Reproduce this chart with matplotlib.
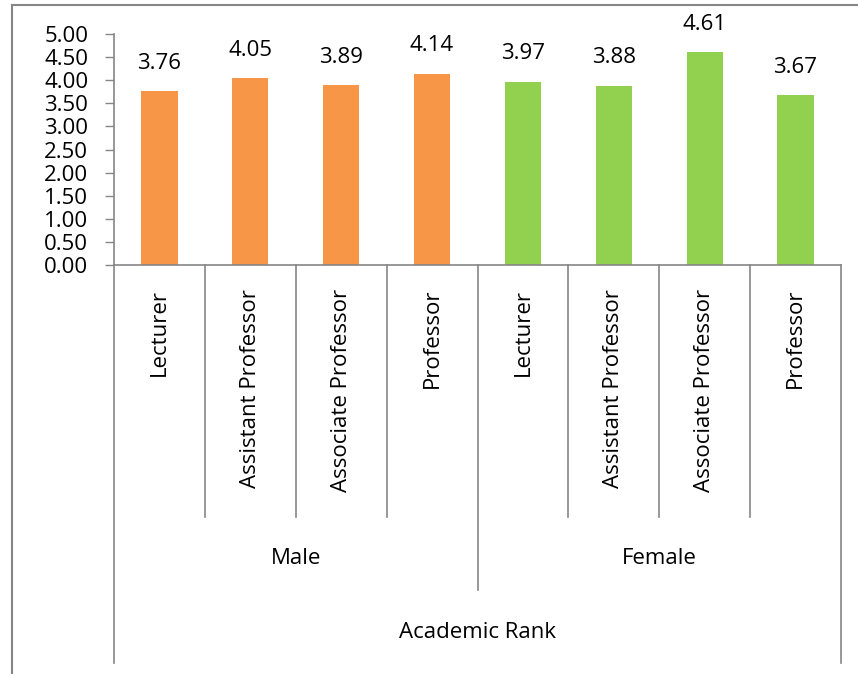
import matplotlib
matplotlib.use("Agg")
import matplotlib.pyplot as plt
import matplotlib.transforms as mtransforms
from matplotlib.lines import Line2D

# mean scores by gender and academic rank
ranks = ["Lecturer", "Assistant Professor", "Associate Professor", "Professor"]
genders = ["Male", "Female"]
male_scores = [3.76, 4.05, 3.89, 4.14]
female_scores = [3.97, 3.88, 4.61, 3.67]
axis_title = "Academic Rank"
y_ticks = [0.0, 0.5, 1.0, 1.5, 2.0, 2.5, 3.0, 3.5, 4.0, 4.5, 5.0]

ORANGE = "#F79646"
GREEN = "#92D050"
GREY = "#868686"

plt.rcParams["font.family"] = ["Open Sans", "DejaVu Sans"]
FS = 16

W, H = 858, 674
fig = plt.figure(figsize=(W / 100, H / 100), dpi=100)

# plot area in pixels (left, top, right, bottom)
px_l, px_t, px_r, px_b = 114, 34, 841, 265
ax = fig.add_axes([px_l / W, 1 - px_b / H, (px_r - px_l) / W, (px_b - px_t) / H])

values = male_scores + female_scores
colors = [ORANGE] * len(male_scores) + [GREEN] * len(female_scores)
xs = list(range(len(values)))
ax.bar(xs, values, width=0.4, color=colors, zorder=2)

for x, v in zip(xs, values):
    ax.annotate(f"{v:.2f}", (x, v), xytext=(0, 20), textcoords="offset points",
                ha="center", va="center", fontsize=FS, color="black")

ax.set_xlim(-0.5, len(values) - 0.5)
ax.set_ylim(0, 5)
ax.set_yticks(y_ticks)
ax.set_yticklabels([f"{t:.2f}" for t in y_ticks], fontsize=FS)
ax.tick_params(axis="y", direction="out", length=6.5, width=1, color=GREY, pad=12)
ax.tick_params(axis="x", bottom=False, labelbottom=False)
for side in ["top", "right"]:
    ax.spines[side].set_visible(False)
for side in ["left", "bottom"]:
    ax.spines[side].set_color(GREY)
    ax.spines[side].set_linewidth(1.2)

# x in data units, y in figure fraction
tr = mtransforms.blended_transform_factory(ax.transData, fig.transFigure)

def fy(py):
    return 1 - py / H

def vline(x, y0, y1):
    fig.add_artist(Line2D([x, x], [fy(y0), fy(y1)], transform=tr,
                          color=GREY, lw=1.2, clip_on=False))

# multi-level category axis
n = len(ranks)
for g in range(len(genders)):
    for i in range(1, n):
        vline(g * n + i - 0.5, px_b, 517)
vline(n - 0.5, px_b, 590)
vline(-0.5, px_b, 663)
vline(len(values) - 0.5, px_b, 663)

for g, gender in enumerate(genders):
    for i, rank in enumerate(ranks):
        fig.text(g * n + i, fy(289), rank, transform=tr, rotation=90,
                 ha="center", va="top", fontsize=FS)
    fig.text(g * n + (n - 1) / 2, fy(558), gender, transform=tr,
             ha="center", va="center", fontsize=FS)
fig.text((len(values) - 1) / 2, fy(632), axis_title, transform=tr,
         ha="center", va="center", fontsize=FS)

# chart area border
fig.add_artist(Line2D([12 / W, 12 / W], [0, fy(5)], color=GREY, lw=1.5))
fig.add_artist(Line2D([12 / W, 1], [fy(5), fy(5)], color=GREY, lw=1.5))

fig.savefig("out.png", dpi=100)
